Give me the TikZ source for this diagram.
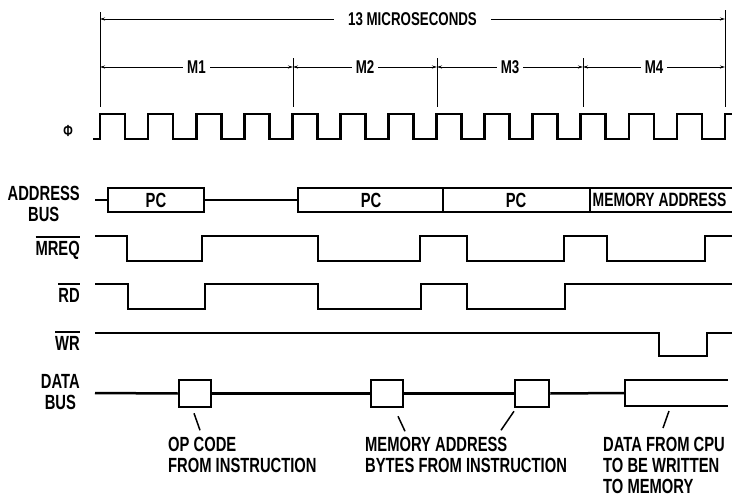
\documentclass[tikz,border=0pt]{standalone}
\usepackage{fontspec}
\setmainfont{Liberation Sans}[FakeStretch=0.72]
\usetikzlibrary{arrows.meta}
\newcommand{\ovl}[1]{\vbox{\hrule height 1.8pt\kern 3pt\hbox{#1}}}

\begin{document}
\begin{tikzpicture}
    [x=1pt, y=-1pt,
     sig/.style={line width=2.7pt},
     bus/.style={line width=2.5pt},
     dim/.style={line width=0.9pt, {Stealth[length=5pt,width=3pt]}-{Stealth[length=5pt,width=3pt]}},
     tick/.style={line width=1pt},
     ptr/.style={line width=1.5pt},
     lbl/.style={font=\fontsize{20.5}{21}\selectfont\bfseries, inner sep=0pt},
     dimlbl/.style={lbl, font=\fontsize{18.5}{20}\selectfont\bfseries, fill=white, inner xsep=4pt},
     note/.style={lbl, align=left, anchor=north west},
     busbox/.style={draw, bus, lbl, minimum width=96pt, minimum height=24pt},
     databox/.style={draw, bus, minimum width=32pt, minimum height=27pt, inner sep=0pt}]
    \useasboundingbox (0,0) rectangle (732,498);

    % time scale
    \coordinate (s0) at (100,19);
    \coordinate (s1) at (725,19);
    \coordinate (m0) at (100,67);
    \coordinate (m1) at (293,67);
    \coordinate (m2) at (437,67);
    \coordinate (m3) at (583,67);
    \coordinate (m4) at (725,67);
    \draw[tick] (100,12) -- (100,107);
    \draw[tick] (725,10) -- (725,107);
    \foreach \x in {293,437,583}
        \draw[tick] (\x,58) -- (\x,107);
    \draw[dim] (s0) -- node[dimlbl, inner xsep=14pt] (total) {13 MICROSECONDS} (s1);
    \foreach \a/\b/\t in {m0/m1/M1, m1/m2/M2, m2/m3/M3, m3/m4/M4}
        \draw[dim] (\a) -- node[dimlbl] {\t} (\b);

    % signal names
    \node[lbl, anchor=east, font=\fontsize{16}{16}\selectfont\bfseries] (phi) at (73,131) {Φ};
    \node[lbl, align=center, anchor=north east] (abus) at (80,186) {ADDRESS\\BUS};
    \node[lbl, anchor=north east] (mreq) at (80,236) {\ovl{MREQ}};
    \node[lbl, anchor=north east] (rd) at (80,283) {\ovl{RD}};
    \node[lbl, anchor=north east] (wr) at (80,331) {\ovl{WR}};
    \node[lbl, align=center, anchor=north east] (dbus) at (80,374) {DATA\\BUS};

    % clock
    \draw[sig] (93,139) -- (100,139)
        \foreach \i in {0,...,12} { -- ++(0,-25) -- ++(25,0) -- ++(0,25) -- ++(23.08,0) }
        -- ++(0,-25) -- ++(12,0);

    % address bus
    \node[busbox] (pc1) at (156,200) {PC};
    \draw[bus] (95,200) -- (pc1.west);
    \draw[bus] (pc1.east) -- (298,200);
    \draw[bus] (740,188) -- (298,188) -- (298,212) -- (740,212);
    \draw[line width=2pt] (443,188) -- (443,212);
    \draw[line width=2pt] (590,188) -- (590,212);
    \node[lbl] (pc2) at (371,200) {PC};
    \node[lbl] (pc3) at (516,200) {PC};
    \node[lbl, anchor=west, font=\fontsize{19.3}{20}\selectfont\bfseries] (maddr) at (592.5,200) {MEMORY ADDRESS};

    % control lines
    \draw[sig] (95,236) -- (127,236) -- (127,261) -- (202,261) -- (202,236) -- (318,236)
        -- (318,261) -- (420,261) -- (420,236) -- (467,236) -- (467,261) -- (564,261)
        -- (564,236) -- (607,236) -- (607,261) -- (705,261) -- (705,236) -- (740,236);
    \draw[sig] (95,284) -- (128,284) -- (128,309) -- (205,309) -- (205,284) -- (318,284)
        -- (318,309) -- (421,309) -- (421,284) -- (467,284) -- (467,309) -- (565,309)
        -- (565,284) -- (740,284);
    \draw[sig] (95,333) -- (659,333) -- (659,356) -- (707,356) -- (707,333) -- (740,333);

    % data bus
    \node[databox] (op) at (195,393.5) {};
    \node[databox] (ma1) at (387,393.5) {};
    \node[databox, minimum width=34pt] (ma2) at (532,393.5) {};
    \draw[bus] (95,393) -- (op.west);
    \draw[bus] (op.east) -- (ma1.west);
    \draw[bus] (ma1.east) -- (ma2.west);
    \draw[bus] (ma2.east) -- (625,393);
    \draw[bus] (728,380) -- (625,380) -- (625,406) -- (728,406);

    % notes
    \node[note] (opnote) at (168,437) {OP CODE\\FROM INSTRUCTION};
    \node[note] (manote) at (365,437) {MEMORY ADDRESS\\BYTES FROM INSTRUCTION};
    \node[note] (cpunote) at (603,437) {DATA FROM CPU\\TO BE WRITTEN\\TO MEMORY};
    \draw[ptr] ([shift={(-1,5)}]op.south) -- ++(6,17);
    \draw[ptr] ([shift={(11,8)}]ma1.south) -- ++(7,15);
    \draw[ptr] ([shift={(-18,3)}]ma2.south) -- ++(-13,19);
    \draw[ptr] (669,411) -- ++(-6,17);
\end{tikzpicture}
\end{document}
